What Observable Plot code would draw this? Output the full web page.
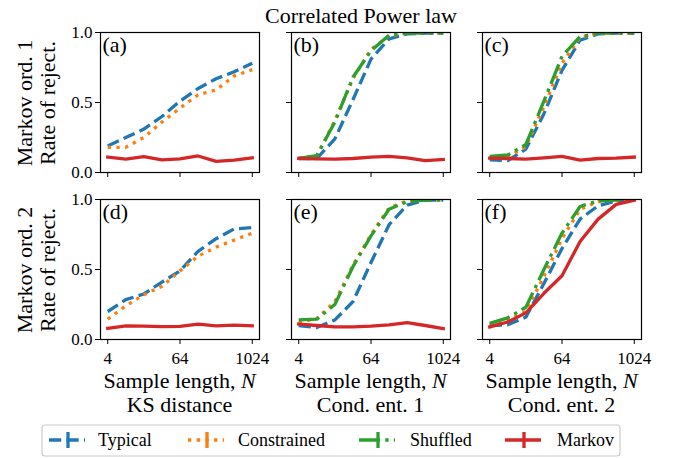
<!DOCTYPE html>
<html><head><meta charset="utf-8">
<script src="https://cdn.jsdelivr.net/npm/d3@7"></script>
<script src="https://cdn.jsdelivr.net/npm/@observablehq/plot@0.6"></script>
<style>
body{margin:0;background:#fff;}
#fig{position:relative;width:675px;height:458px;background:#fff;font-family:'Liberation Serif',serif;color:#000;overflow:hidden;}
#fig > svg.plot{position:absolute;}
#overlay{position:absolute;left:0;top:0;}
</style></head><body><div id="fig"></div>
<script>
// ---- data ----
const N = [4, 8, 16, 32, 64, 128, 256, 512, 1024];
const seriesNames = ["Typical", "Constrained", "Shuffled", "Markov"];
const panelLabels = ["(a)", "(b)", "(c)", "(d)", "(e)", "(f)"];
const rowLabels = ["Markov ord. 1", "Markov ord. 2"];
const yLabel = "Rate of reject.";
const xLabel = "Sample length, ";
const xLabelVar = "N";
const colLabels = ["KS distance", "Cond. ent. 1", "Cond. ent. 2"];
const xTicks = [4, 64, 1024];
const yTicks = [0, 0.5, 1];
const title = "Correlated Power law";

const typical_a     = [0.19, 0.25, 0.31, 0.40, 0.51, 0.60, 0.67, 0.72, 0.78];
const constrained_a = [0.18, 0.18, 0.25, 0.36, 0.46, 0.555, 0.59, 0.69, 0.735];
const markov_a      = [0.11, 0.095, 0.113, 0.09, 0.097, 0.118, 0.08, 0.088, 0.105];

const typical_b     = [0.10, 0.10, 0.24, 0.52, 0.81, 0.955, 0.99, 0.995, 0.995];
const constrained_b = [0.10, 0.12, 0.37, 0.67, 0.88, 0.975, 0.995, 0.995, 0.995];
const shuffled_b    = [0.10, 0.12, 0.36, 0.68, 0.87, 0.98, 0.995, 0.995, 0.995];
const markov_b      = [0.10, 0.097, 0.095, 0.10, 0.11, 0.115, 0.105, 0.085, 0.093];

const typical_c     = [0.09, 0.085, 0.167, 0.42, 0.73, 0.945, 0.99, 0.995, 0.995];
const constrained_c = [0.105, 0.11, 0.185, 0.47, 0.78, 0.965, 0.995, 0.995, 0.995];
const shuffled_c    = [0.115, 0.125, 0.20, 0.51, 0.83, 0.97, 0.995, 0.995, 0.995];
const markov_c      = [0.103, 0.10, 0.096, 0.105, 0.115, 0.089, 0.10, 0.102, 0.11];

const typical_d     = [0.20, 0.285, 0.325, 0.41, 0.49, 0.63, 0.72, 0.79, 0.80];
const constrained_d = [0.145, 0.24, 0.32, 0.38, 0.49, 0.595, 0.66, 0.71, 0.76];
const markov_d      = [0.08, 0.098, 0.095, 0.092, 0.094, 0.11, 0.098, 0.102, 0.098];

const typical_e     = [0.10, 0.085, 0.14, 0.27, 0.55, 0.82, 0.96, 0.995, 0.995];
const constrained_e = [0.12, 0.15, 0.27, 0.53, 0.75, 0.94, 0.99, 0.995, 0.995];
const shuffled_e    = [0.14, 0.145, 0.25, 0.52, 0.74, 0.93, 0.985, 0.995, 0.995];
const markov_e      = [0.11, 0.10, 0.09, 0.09, 0.095, 0.105, 0.12, 0.10, 0.078];

const typical_f     = [0.10, 0.105, 0.16, 0.40, 0.65, 0.86, 0.955, 0.99, 0.995];
const constrained_f = [0.105, 0.14, 0.20, 0.45, 0.72, 0.93, 0.985, 0.995, 0.995];
const shuffled_f    = [0.115, 0.155, 0.23, 0.50, 0.76, 0.95, 0.99, 0.995, 0.995];
const markov_f      = [0.09, 0.125, 0.19, 0.33, 0.455, 0.70, 0.86, 0.965, 0.995];

// ---- styles ----
const FONT = "Liberation Serif";
const colors = ["#1f77b4", "#ff7f0e", "#2ca02c", "#d62728"];
const dashes = ["12.2,5.3", "3.3,5.4", "21,5.3,3.3,5.3", "none"];
const LW = 3.3;

const panels = [
  [typical_a, constrained_a, null, markov_a],
  [typical_b, constrained_b, shuffled_b, markov_b],
  [typical_c, constrained_c, shuffled_c, markov_c],
  [typical_d, constrained_d, null, markov_d],
  [typical_e, constrained_e, shuffled_e, markov_e],
  [typical_f, constrained_f, shuffled_f, markov_f]
];

// ---- layout ----
const colLeft = [100, 291, 482];
const rowTop = [32, 199];
const PW = 159, PH = 140;
const ML = 45, MR = 10, MT = 10, MB = 35;

const fig = document.getElementById("fig");

panels.forEach((vals, i) => {
  const row = Math.floor(i / 3), col = i % 3;
  const marks = [];
  vals.forEach((v, k) => {
    if (!v) return;
    const rows = N.map((n, j) => ({n, v: v[j], s: seriesNames[k]}));
    marks.push(Plot.line(rows, {
      x: "n", y: "v", stroke: colors[k], strokeWidth: LW,
      strokeDasharray: dashes[k], strokeLinecap: k === 3 ? "square" : "butt",
      strokeLinejoin: "round", clip: true
    }));
  });
  marks.push(Plot.text([panelLabels[i]], {frameAnchor: "top-left", dx: 2, dy: 4, fontSize: 22, lineAnchor: "top"}));
  marks.push(Plot.frame({stroke: "#000", strokeWidth: 1.2}));
  const svg = Plot.plot({
    width: ML + PW + MR, height: MT + PH + MB,
    marginLeft: ML, marginRight: MR, marginTop: MT, marginBottom: MB,
    x: {type: "log", base: 2, domain: [Math.pow(2, 1.6), Math.pow(2, 10.4)], ticks: xTicks,
        tickFormat: row === 1 ? (d => String(d)) : (() => ""), tickSize: 5, tickPadding: 7, label: null},
    y: {domain: [0, 1], ticks: yTicks,
        tickFormat: col === 0 ? d3.format(".1f") : (() => ""), tickSize: 5, tickPadding: 3, label: null},
    style: {fontFamily: FONT, fontSize: "17px"},
    marks
  });
  svg.classList.add("plot");
  svg.style.position = "absolute";
  svg.style.background = "transparent";
  svg.style.overflow = "visible";
  svg.style.left = (colLeft[col] - ML) + "px";
  svg.style.top = (rowTop[row] - MT) + "px";
  fig.appendChild(svg);
});

// ---- text & legend overlay ----
const ov = d3.select(fig).append("svg").attr("id", "overlay")
  .attr("width", 675).attr("height", 458)
  .attr("font-family", FONT);

ov.append("text").attr("x", 361).attr("y", 22.5).attr("text-anchor", "middle")
  .attr("font-family", FONT).attr("font-size", 22).text(title);

rowLabels.forEach((lab, r) => {
  const cy = rowTop[r] + PH / 2 + 1;
  const g = ov.append("g").attr("transform", `translate(0,${cy})`);
  g.append("text").attr("transform", "translate(32,0) rotate(-90)").attr("text-anchor", "middle")
    .attr("font-family", FONT).attr("font-size", 22).text(lab);
  g.append("text").attr("transform", "translate(55,0) rotate(-90)").attr("text-anchor", "middle")
    .attr("font-family", FONT).attr("font-size", 22).text(yLabel);
});

colLabels.forEach((lab, c) => {
  const cx = colLeft[c] + PW / 2;
  const t = ov.append("text").attr("x", cx).attr("y", 387.5).attr("text-anchor", "middle")
    .attr("font-family", FONT).attr("font-size", 22);
  t.append("tspan").text(xLabel);
  t.append("tspan").attr("font-style", "italic").text(xLabelVar);
  ov.append("text").attr("x", cx).attr("y", 412).attr("text-anchor", "middle")
    .attr("font-family", FONT).attr("font-size", 22).text(lab);
});

// legend
const lg = ov.append("g");
lg.append("rect").attr("x", 42).attr("y", 425).attr("width", 578).attr("height", 31)
  .attr("rx", 3).attr("fill", "#fff").attr("stroke", "#cccccc").attr("stroke-width", 1.2);
const hx = [49, 188, 359, 505], tx = [98, 238, 410, 557];
seriesNames.forEach((name, k) => {
  lg.append("line").attr("x1", hx[k]).attr("x2", hx[k] + 36).attr("y1", 440).attr("y2", 440)
    .attr("stroke", colors[k]).attr("stroke-width", LW)
    .attr("stroke-dasharray", dashes[k]);
  lg.append("line").attr("x1", hx[k] + 19).attr("x2", hx[k] + 19).attr("y1", 432).attr("y2", 448)
    .attr("stroke", colors[k]).attr("stroke-width", LW);
  lg.append("text").attr("x", tx[k]).attr("y", 445.5).attr("font-family", FONT).attr("font-size", 18).text(name);
});
</script></body></html>
